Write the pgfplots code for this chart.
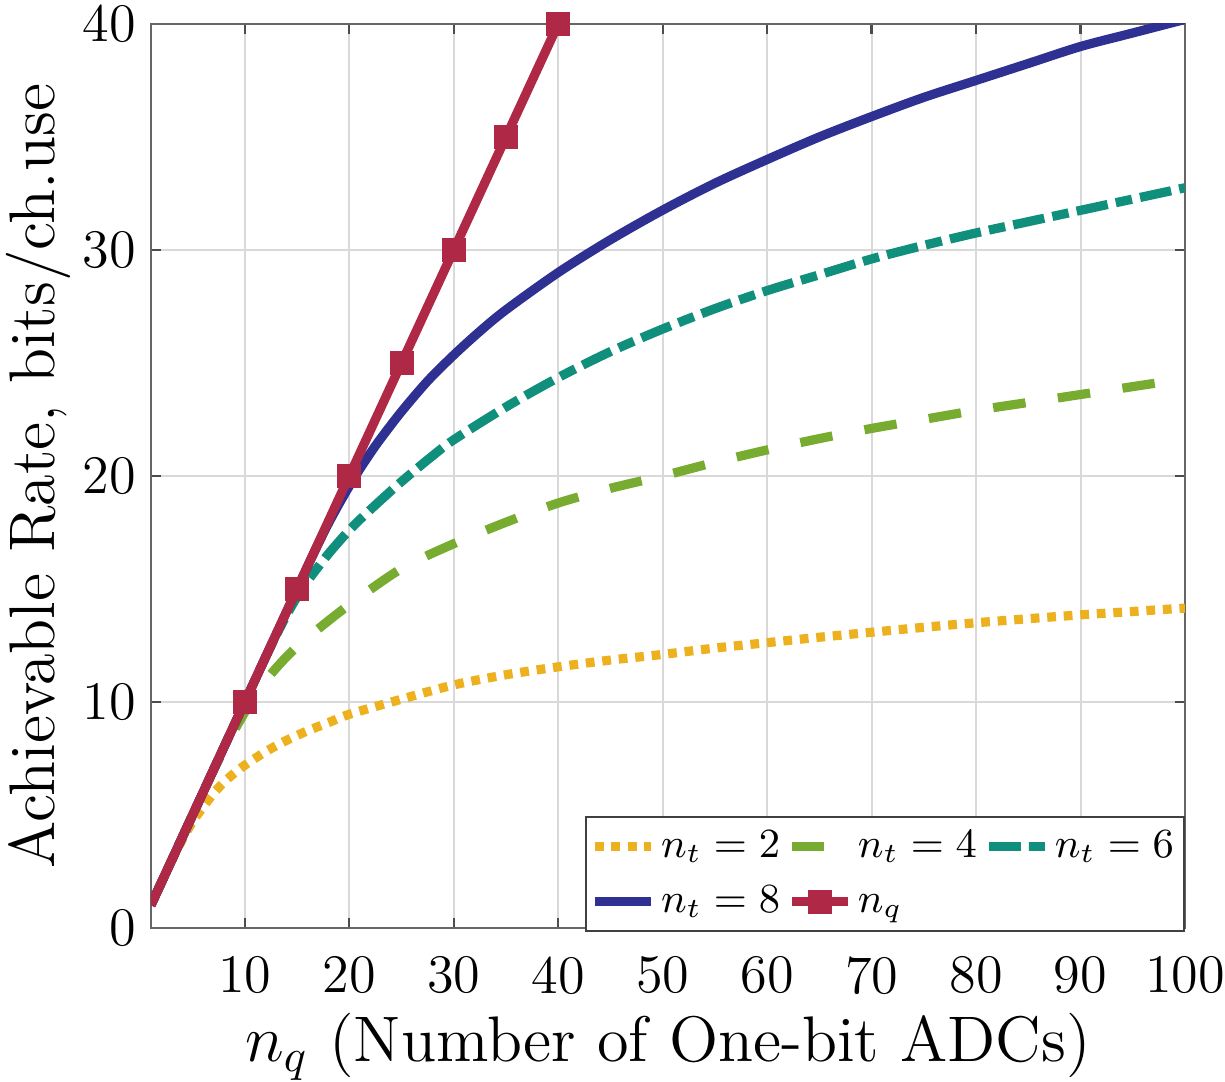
\documentclass[border=0pt]{standalone}
\usepackage{fontspec}
\usepackage{pgfplots}
\pgfplotsset{compat=1.18}
\definecolor{cY}{RGB}{237,177,32}
\definecolor{cG}{RGB}{119,172,48}
\definecolor{cT}{RGB}{16,143,124}
\definecolor{cB}{RGB}{46,49,146}
\definecolor{cR}{RGB}{175,40,70}
\begin{document}
\begin{tikzpicture}
\begin{axis}[
  scale only axis, width=224.8pt, height=196.5pt,
  xmin=1, xmax=100, ymin=0, ymax=40,
  xtick={10,20,...,100}, ytick={0,10,...,40},
  /pgf/number format/assume math mode=true,
  grid=major,
  major grid style={draw=black!15, line width=0.45pt},
  axis line style={draw=black!60, line width=0.5pt},
  tick style={draw=black!70, line width=0.5pt},
  major tick length=2.2pt,
  tick align=inside,
  every tick label/.append style={font=\fontsize{11.8}{14}\selectfont, inner sep=0pt},
  xticklabel style={yshift=-6pt},
  yticklabel style={xshift=-3pt},
  every axis x label/.style={at={(axis description cs:0.5,-0.148)}, anchor=base, inner sep=0pt, font=\fontsize{14}{17}\selectfont},
  every axis y label/.style={at={(axis description cs:-0.093,0.5)}, anchor=base, rotate=90, inner sep=0pt, font=\fontsize{14}{17}\selectfont},
  xlabel={$n_q$ (Number of One-bit ADCs)},
  ylabel={Achievable Rate, bits/ch.use},
  legend columns=3,
  legend cell align=left,
  legend style={at={(rel axis cs:1,0)}, anchor=south east, yshift=-0.9pt,
    draw=black!75, line width=0.4pt, fill=white,
    font=\fontsize{9.1}{11}\selectfont, inner xsep=1pt, inner ysep=0.65pt,
    nodes={inner xsep=1.2pt, inner ysep=1pt, text height=7.2pt, text depth=2.3pt},
    row sep=0.5pt,
    /tikz/every even column/.append style={column sep=0.3pt}},
  legend image code/.code={\draw[mark repeat=2,mark phase=2,#1] plot coordinates {(0pt,0pt) (6.1pt,0pt) (12.2pt,0pt)};},
]
\addplot[cY, line width=2pt, smooth, dash pattern=on 1.9pt off 1.7pt] coordinates {
(1,1)(2,2)(3,2.98)(4,3.9)(5,4.7)(6,5.35)(7,5.95)(8,6.45)(9,6.85)(10,7.2)(12,7.8)(14,8.3)(16,8.72)(18,9.08)(20,9.45)(25,10.12)(30,10.75)(35,11.2)(40,11.55)(45,11.85)(50,12.1)(55,12.38)(60,12.62)(65,12.86)(70,13.08)(75,13.3)(80,13.5)(85,13.68)(90,13.85)(95,14.0)(100,14.15)};
\addlegendentry{$n_t=2$}
\addplot[cG, line width=2pt, smooth, dash pattern=on 7.1pt off 7.1pt] coordinates {
(1,1)(2,2)(3,3)(4,4)(5,5)(6,6)(7,6.98)(8,7.9)(9,8.75)(10,9.55)(11,10.3)(12,10.95)(13,11.5)(14,12.0)(15,12.45)(17,13.22)(20,14.3)(25,15.9)(30,17.0)(35,17.95)(40,18.8)(45,19.45)(50,20.0)(55,20.6)(60,21.15)(65,21.65)(70,22.1)(75,22.5)(80,22.9)(85,23.25)(90,23.6)(95,23.95)(100,24.3)};
\addlegendentry{$n_t=4$}
\addplot[cT, line width=2pt, smooth, dash pattern=on 6.9pt off 1.8pt on 3.6pt off 1.8pt] coordinates {
(1,1)(2,2)(4,4)(6,6)(8,8)(10,10)(12,12)(13,12.95)(14,13.85)(15,14.65)(16,15.35)(18,16.55)(20,17.6)(22,18.5)(25,19.75)(28,20.9)(30,21.6)(35,23.05)(40,24.35)(45,25.5)(50,26.5)(55,27.4)(60,28.2)(65,28.9)(70,29.6)(75,30.2)(80,30.75)(85,31.25)(90,31.75)(95,32.25)(100,32.75)};
\addlegendentry{$n_t=6$}
\addplot[cB, line width=2pt, smooth] coordinates {
(1,1)(2,2)(4,4)(6,6)(8,8)(10,10)(12,12)(14,14)(16,16)(17,16.97)(18,17.9)(19,18.75)(20,19.55)(21,20.3)(22,21.0)(23,21.65)(25,22.85)(27.5,24.2)(30,25.35)(32.5,26.4)(35,27.35)(40,29.0)(45,30.45)(50,31.76)(55,32.95)(60,34.0)(65,35.0)(70,35.9)(75,36.75)(80,37.5)(85,38.25)(90,39.0)(95,39.6)(100,40.2)};
\addlegendentry{$n_t=8$}
\addplot[cR, line width=2pt, forget plot] coordinates {(1,1)(10,10)};
\addplot[cR, line width=2pt, mark=square*, mark size=2.2pt, mark options={solid, fill=cR, draw=cR, line width=0.8pt}] coordinates {
(10,10)(15,15)(20,20)(25,25)(30,30)(35,35)(40,40)};
\addlegendentry{$n_q$}
\coordinate (SW) at (rel axis cs:0,0);
\coordinate (NE) at (rel axis cs:1,1);
\end{axis}
\pgfresetboundingbox
\path ([shift={(-32.8pt,-33.5pt)}]SW) rectangle ([shift={(8.7pt,5.2pt)}]NE);
\end{tikzpicture}
\end{document}
